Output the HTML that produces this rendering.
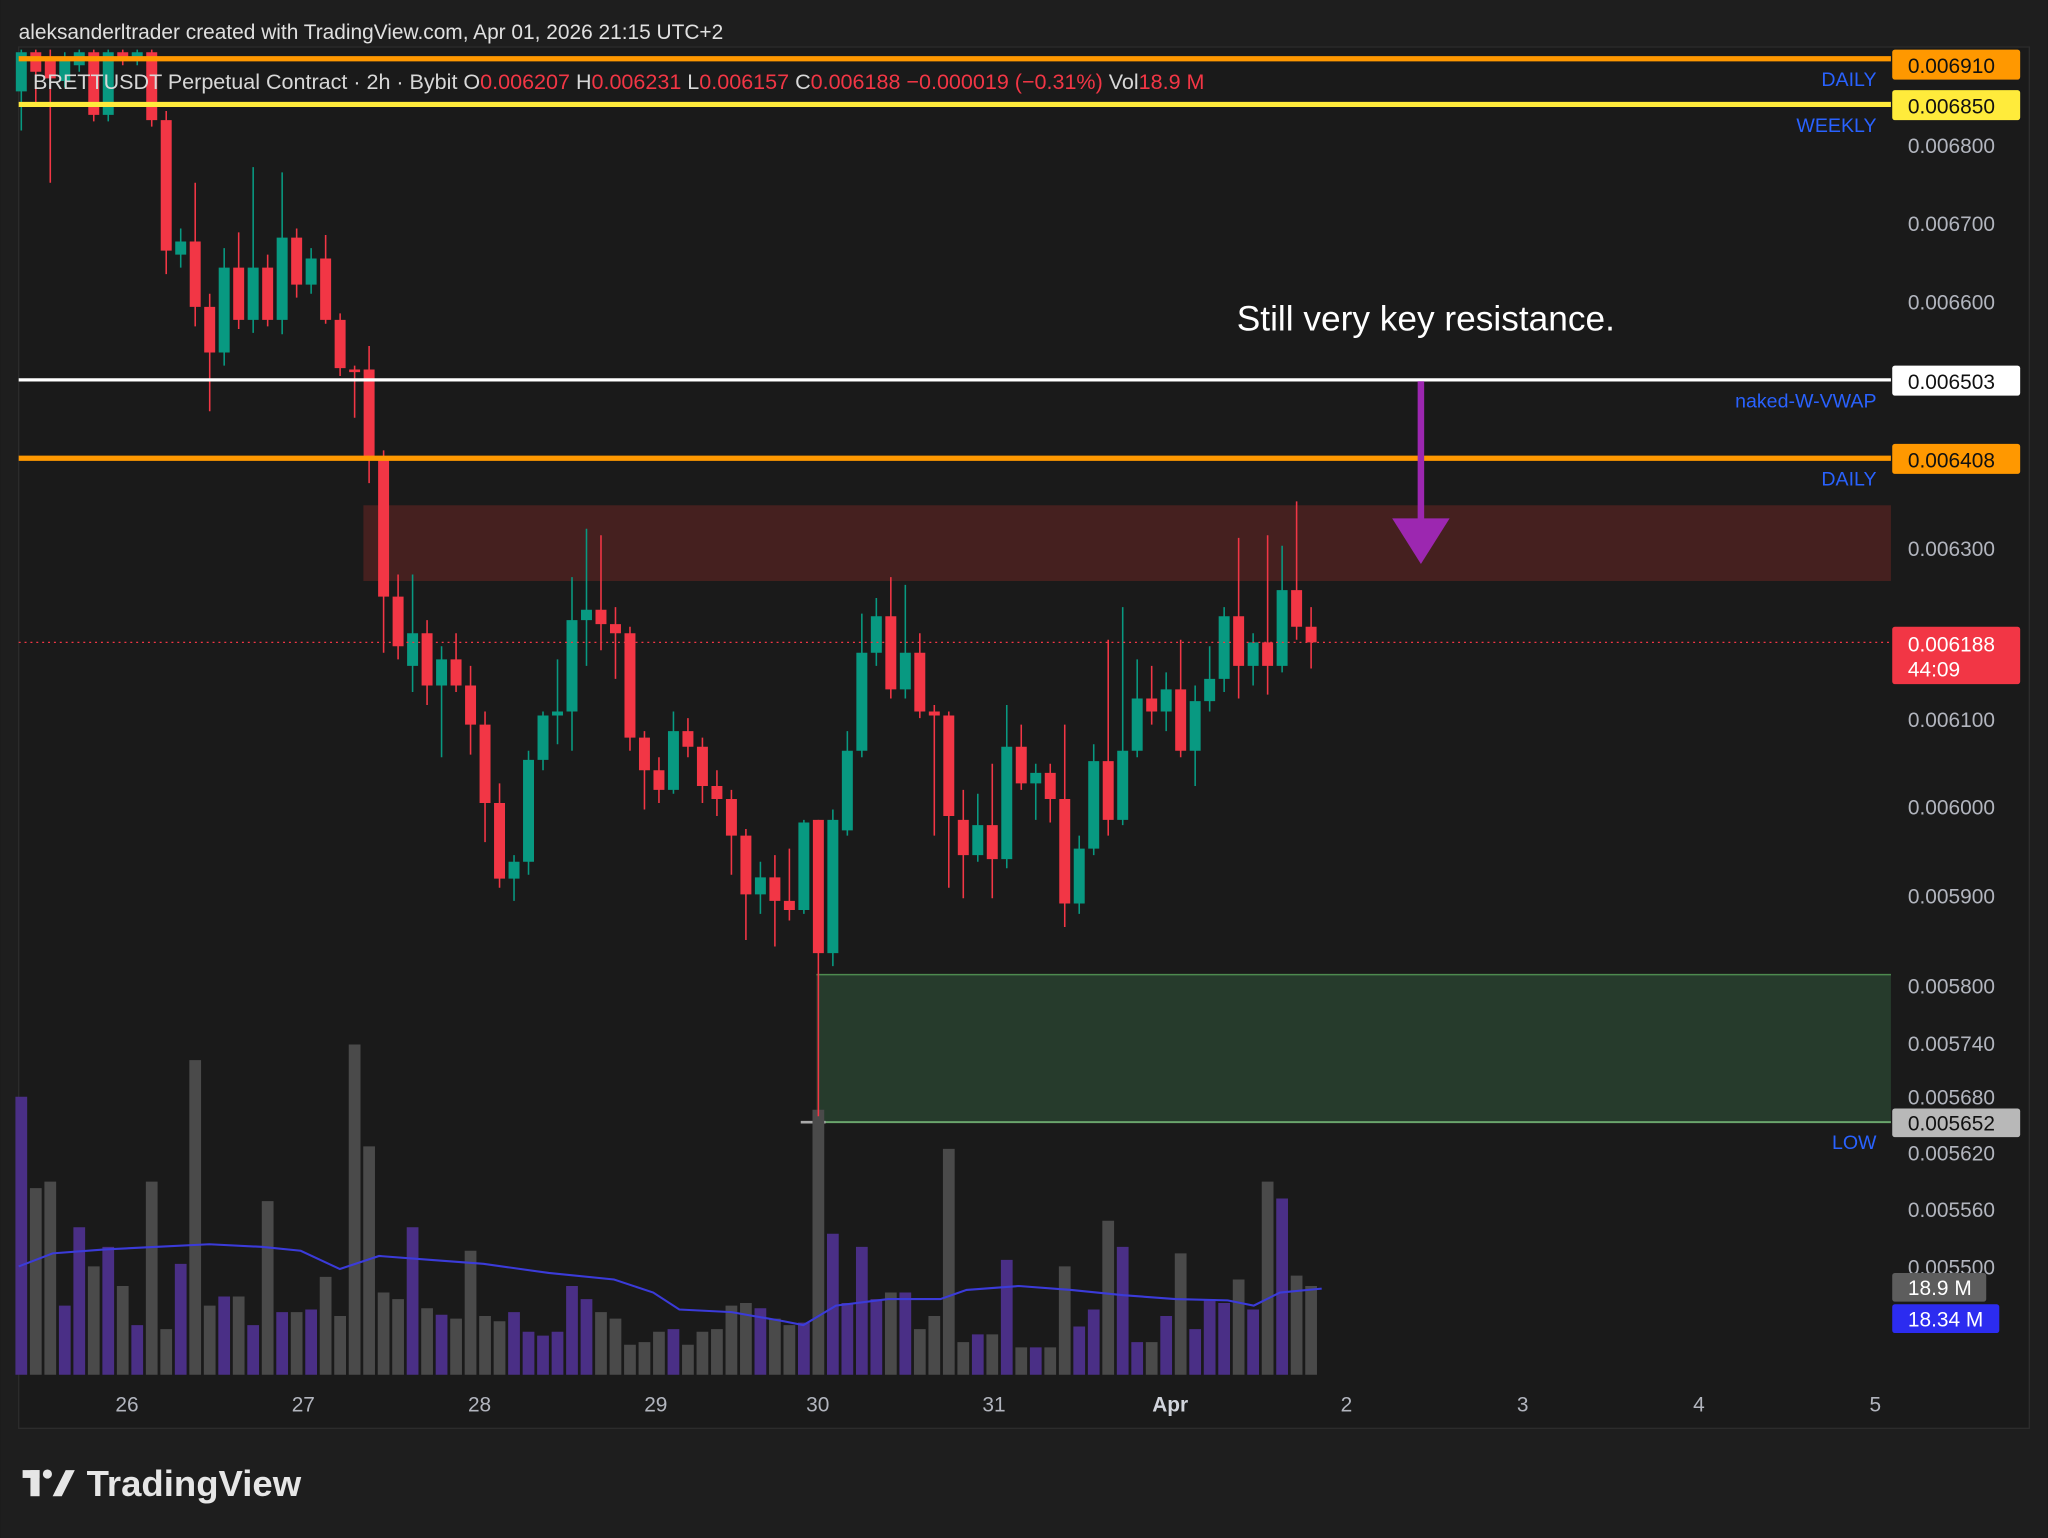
<!DOCTYPE html>
<html><head><meta charset="utf-8"><style>
html,body{margin:0;padding:0;background:#1c1c1c;}
svg{display:block;}
text{font-family:"Liberation Sans",sans-serif;}
</style></head><body>
<svg width="2048" height="1538" viewBox="0 0 1568 1178" xmlns="http://www.w3.org/2000/svg">
<rect x="0" y="0" width="1568" height="1178" fill="#1e1e1e"/>
<rect x="14" y="36" width="1540" height="1058" fill="#1a1a1a" stroke="#2c2c2c" stroke-width="1"/>
<text x="14" y="30" font-size="16" fill="#e0e0e0">aleksanderltrader created with TradingView.com, Apr 01, 2026 21:15 UTC+2</text>
<rect x="278" y="387" width="1170" height="58" fill="#45201f"/>
<rect x="625" y="746" width="823" height="114" fill="#263b2c"/>
<line x1="625" y1="746.5" x2="1448" y2="746.5" stroke="#4d8a4f" stroke-width="1.2"/>
<line x1="625" y1="859.5" x2="1448" y2="859.5" stroke="#6aa56c" stroke-width="1.5"/>
<line x1="613" y1="859.5" x2="632" y2="859.5" stroke="#aaa" stroke-width="2"/>
<!-- volume -->
<path fill="#4a2f86" d="M11.5 840h9V1053h-9Z M44.8 1000h9V1053h-9Z M55.9 940h9V1053h-9Z M78.1 955h9V1053h-9Z M100.3 1015h9V1053h-9Z M133.6 968h9V1053h-9Z M166.9 993h9V1053h-9Z M189.1 1015h9V1053h-9Z M211.3 1005h9V1053h-9Z M233.5 1003h9V1053h-9Z M311.2 940h9V1053h-9Z M333.4 1007h9V1053h-9Z M388.9 1005h9V1053h-9Z M400 1020h9V1053h-9Z M411.1 1023h9V1053h-9Z M422.2 1020h9V1053h-9Z M433.3 985h9V1053h-9Z M444.4 995h9V1053h-9Z M511 1018h9V1053h-9Z M577.6 1002h9V1053h-9Z M610.9 1013h9V1053h-9Z M633.1 945h9V1053h-9Z M644.2 998h9V1053h-9Z M655.3 955h9V1053h-9Z M666.4 995h9V1053h-9Z M688.6 990h9V1053h-9Z M744.1 1022h9V1053h-9Z M766.3 965h9V1053h-9Z M788.5 1032h9V1053h-9Z M821.8 1016h9V1053h-9Z M832.9 1003h9V1053h-9Z M855.1 955h9V1053h-9Z M866.2 1028h9V1053h-9Z M888.4 1008h9V1053h-9Z M910.6 1018h9V1053h-9Z M921.7 995h9V1053h-9Z M932.8 998h9V1053h-9Z M955 1003h9V1053h-9Z M977.2 918h9V1053h-9Z"/>
<path fill="#4a4a4a" d="M22.6 910h9V1053h-9Z M33.7 905h9V1053h-9Z M67 970h9V1053h-9Z M89.2 985h9V1053h-9Z M111.4 905h9V1053h-9Z M122.5 1018h9V1053h-9Z M144.7 812h9V1053h-9Z M155.8 1000h9V1053h-9Z M178 993h9V1053h-9Z M200.2 920h9V1053h-9Z M222.4 1005h9V1053h-9Z M244.6 978h9V1053h-9Z M255.7 1008h9V1053h-9Z M266.8 800h9V1053h-9Z M277.9 878h9V1053h-9Z M289 990h9V1053h-9Z M300.1 995h9V1053h-9Z M322.3 1002h9V1053h-9Z M344.5 1010h9V1053h-9Z M355.6 958h9V1053h-9Z M366.7 1008h9V1053h-9Z M377.8 1012h9V1053h-9Z M455.5 1005h9V1053h-9Z M466.6 1010h9V1053h-9Z M477.7 1030h9V1053h-9Z M488.8 1028h9V1053h-9Z M499.9 1020h9V1053h-9Z M522.1 1030h9V1053h-9Z M533.2 1020h9V1053h-9Z M544.3 1018h9V1053h-9Z M555.4 1000h9V1053h-9Z M566.5 998h9V1053h-9Z M588.7 1010h9V1053h-9Z M599.8 1015h9V1053h-9Z M622 850h9V1053h-9Z M677.5 990h9V1053h-9Z M699.7 1018h9V1053h-9Z M710.8 1008h9V1053h-9Z M721.9 880h9V1053h-9Z M733 1028h9V1053h-9Z M755.2 1022h9V1053h-9Z M777.4 1032h9V1053h-9Z M799.6 1032h9V1053h-9Z M810.7 970h9V1053h-9Z M844 935h9V1053h-9Z M877.3 1028h9V1053h-9Z M899.5 960h9V1053h-9Z M943.9 980h9V1053h-9Z M966.1 905h9V1053h-9Z M988.3 977h9V1053h-9Z M999.4 985h9V1053h-9Z"/>
<polyline fill="none" stroke="#3b3bd9" stroke-width="1.6" points="14,970 40,960 80,957 120,955 160,953 200,955 230,958 260,972 290,962 330,965 370,968 420,975 470,980 500,990 520,1003 560,1005 600,1012 615,1015 640,1000 680,995 720,995 740,988 780,985 820,988 860,992 900,995 940,996 960,1000 980,990 1012,987"/>
<!-- candles -->
<path fill="none" stroke="#089981" stroke-width="1.2" d="M16 38V100 M49.3 40V67 M60.4 38V55 M82.6 38V93 M104.8 38V50 M138.1 175V205 M171.4 190V280 M193.6 128V255 M215.8 132V256 M238 190V225 M315.7 440V530 M337.9 495V580 M393.4 655V690 M404.5 575V670 M415.6 545V590 M426.7 505V570 M437.8 442V575 M448.9 405V510 M515.5 545V608 M582.1 660V700 M615.4 628V700 M637.6 620V740 M648.7 560V640 M659.8 470V580 M670.9 458V510 M693.1 448V535 M748.6 608V660 M770.8 540V665 M793 585V628 M826.3 640V700 M837.4 570V655 M859.6 465V632 M870.7 505V580 M892.9 515V560 M915.1 525V602 M926.2 495V545 M937.3 465V530 M959.5 485V525 M981.7 418V515"/>
<path fill="#089981" d="M11.8 40h8.4V70h-8.4Z M45.1 45h8.4V62h-8.4Z M56.2 40h8.4V50h-8.4Z M78.4 40h8.4V88h-8.4Z M100.6 40h8.4V45h-8.4Z M133.9 185h8.4V195h-8.4Z M167.2 205h8.4V270h-8.4Z M189.4 205h8.4V245h-8.4Z M211.6 182h8.4V245h-8.4Z M233.8 198h8.4V218h-8.4Z M311.5 485h8.4V510h-8.4Z M333.7 505h8.4V525h-8.4Z M389.2 660h8.4V673h-8.4Z M400.3 582h8.4V660h-8.4Z M411.4 548h8.4V582h-8.4Z M422.5 545h8.4V548h-8.4Z M433.6 475h8.4V545h-8.4Z M444.7 467h8.4V475h-8.4Z M511.3 560h8.4V605h-8.4Z M577.9 672h8.4V685h-8.4Z M611.2 630h8.4V697h-8.4Z M633.4 628h8.4V730h-8.4Z M644.5 575h8.4V636h-8.4Z M655.6 500h8.4V575h-8.4Z M666.7 472h8.4V500h-8.4Z M688.9 500h8.4V528h-8.4Z M744.4 632h8.4V655h-8.4Z M766.6 572h8.4V658h-8.4Z M788.8 592h8.4V600h-8.4Z M822.1 650h8.4V692h-8.4Z M833.2 583h8.4V650h-8.4Z M855.4 575h8.4V628h-8.4Z M866.5 535h8.4V575h-8.4Z M888.7 528h8.4V545h-8.4Z M910.9 537h8.4V575h-8.4Z M922 520h8.4V537h-8.4Z M933.1 472h8.4V520h-8.4Z M955.3 492h8.4V510h-8.4Z M977.5 452h8.4V510h-8.4Z"/>
<path fill="none" stroke="#f23645" stroke-width="1.2" d="M27.1 38V80 M38.2 38V140 M71.5 38V93 M93.7 38V50 M115.9 38V97 M127 85V210 M149.2 140V250 M160.3 225V315 M182.5 178V252 M204.7 195V250 M226.9 175V228 M249.1 180V248 M260.2 240V288 M271.3 280V320 M282.4 265V370 M293.5 345V500 M304.6 440V505 M326.8 475V540 M349 485V530 M360.1 510V578 M371.2 545V645 M382.3 600V680 M460 410V498 M471.1 465V520 M482.2 480V575 M493.3 560V620 M504.4 580V615 M526.6 550V580 M537.7 565V615 M548.8 590V625 M559.9 605V670 M571 635V720 M593.2 655V725 M604.3 650V705 M626.5 628V855 M682 442V535 M704.2 485V550 M715.3 540V640 M726.4 545V680 M737.5 605V688 M759.7 585V688 M781.9 555V605 M804.1 585V630 M815.2 555V710 M848.5 490V640 M881.8 510V555 M904 490V580 M948.4 412V535 M970.6 410V532 M992.8 384V490 M1003.9 465V512"/>
<path fill="#f23645" d="M22.9 40h8.4V55h-8.4Z M34 45h8.4V60h-8.4Z M67.3 40h8.4V88h-8.4Z M89.5 40h8.4V45h-8.4Z M111.7 40h8.4V92h-8.4Z M122.8 92h8.4V192h-8.4Z M145 185h8.4V235h-8.4Z M156.1 235h8.4V270h-8.4Z M178.3 205h8.4V245h-8.4Z M200.5 205h8.4V245h-8.4Z M222.7 182h8.4V218h-8.4Z M244.9 198h8.4V245h-8.4Z M256 245h8.4V282h-8.4Z M267.1 283h8.4V285h-8.4Z M278.2 283h8.4V350h-8.4Z M289.3 350h8.4V457h-8.4Z M300.4 457h8.4V495h-8.4Z M322.6 485h8.4V525h-8.4Z M344.8 505h8.4V525h-8.4Z M355.9 525h8.4V555h-8.4Z M367 555h8.4V615h-8.4Z M378.1 615h8.4V673h-8.4Z M455.8 467h8.4V478h-8.4Z M466.9 478h8.4V485h-8.4Z M478 485h8.4V565h-8.4Z M489.1 565h8.4V590h-8.4Z M500.2 590h8.4V605h-8.4Z M522.4 560h8.4V572h-8.4Z M533.5 572h8.4V602h-8.4Z M544.6 602h8.4V612h-8.4Z M555.7 612h8.4V640h-8.4Z M566.8 640h8.4V685h-8.4Z M589 672h8.4V690h-8.4Z M600.1 690h8.4V697h-8.4Z M622.3 628h8.4V730h-8.4Z M677.8 472h8.4V528h-8.4Z M700 500h8.4V545h-8.4Z M711.1 545h8.4V548h-8.4Z M722.2 548h8.4V625h-8.4Z M733.3 628h8.4V655h-8.4Z M755.5 632h8.4V658h-8.4Z M777.7 572h8.4V600h-8.4Z M799.9 592h8.4V612h-8.4Z M811 612h8.4V692h-8.4Z M844.3 583h8.4V628h-8.4Z M877.6 535h8.4V545h-8.4Z M899.8 528h8.4V575h-8.4Z M944.2 472h8.4V510h-8.4Z M966.4 492h8.4V510h-8.4Z M988.6 452h8.4V480h-8.4Z M999.7 480h8.4V492h-8.4Z"/>
<!-- level lines -->
<line x1="14" y1="45" x2="1448" y2="45" stroke="#ff9800" stroke-width="4"/>
<line x1="14" y1="80" x2="1448" y2="80" stroke="#ffeb3b" stroke-width="4"/>
<line x1="14" y1="291" x2="1448" y2="291" stroke="#ffffff" stroke-width="2.5"/>
<line x1="14" y1="351" x2="1448" y2="351" stroke="#ff9800" stroke-width="4"/>
<line x1="14" y1="492" x2="1448" y2="492" stroke="#f23645" stroke-width="1" stroke-dasharray="1.5,3"/>
<text x="25" y="68" font-size="16.5" fill="#d8d8d8">BRETTUSDT Perpetual Contract · 2h · Bybit  O<tspan fill="#f23645">0.006207</tspan>  H<tspan fill="#f23645">0.006231</tspan>  L<tspan fill="#f23645">0.006157</tspan>  C<tspan fill="#f23645">0.006188  −0.000019 (−0.31%)</tspan>  Vol<tspan fill="#f23645">18.9 M</tspan></text>
<line x1="1088" y1="292" x2="1088" y2="398" stroke="#9c27b0" stroke-width="5"/>
<polygon points="1066,397 1110,397 1088,432" fill="#9c27b0"/>
<text x="947" y="253" font-size="27" fill="#ffffff">Still very key resistance.</text>
<g font-size="15" fill="#2962ff" text-anchor="end">
<text x="1437" y="66">DAILY</text>
<text x="1437" y="101">WEEKLY</text>
<text x="1437" y="312">naked-W-VWAP</text>
<text x="1437" y="372">DAILY</text>
<text x="1437" y="880">LOW</text>
</g>
<g font-size="16" fill="#b2b5be">
<text x="1461" y="117">0.006800</text>
<text x="1461" y="177">0.006700</text>
<text x="1461" y="237">0.006600</text>
<text x="1461" y="426">0.006300</text>
<text x="1461" y="557">0.006100</text>
<text x="1461" y="624">0.006000</text>
<text x="1461" y="692">0.005900</text>
<text x="1461" y="761">0.005800</text>
<text x="1461" y="805">0.005740</text>
<text x="1461" y="846">0.005680</text>
<text x="1461" y="889">0.005620</text>
<text x="1461" y="932">0.005560</text>
<text x="1461" y="976">0.005500</text>
<text x="1517" y="1020">0</text>
</g>
<rect x="1449" y="38" width="98" height="23" rx="2" fill="#ff9800"/><text x="1461" y="56" font-size="16" fill="#111">0.006910</text>
<rect x="1449" y="69" width="98" height="23" rx="2" fill="#ffeb3b"/><text x="1461" y="87" font-size="16" fill="#111">0.006850</text>
<rect x="1449" y="280" width="98" height="23" rx="2" fill="#ffffff"/><text x="1461" y="298" font-size="16" fill="#111">0.006503</text>
<rect x="1449" y="340" width="98" height="23" rx="2" fill="#ff9800"/><text x="1461" y="358" font-size="16" fill="#111">0.006408</text>
<rect x="1449" y="480" width="98" height="44" rx="2" fill="#f23645"/><text x="1461" y="499" font-size="16" fill="#fff">0.006188</text><text x="1461" y="518" font-size="16" fill="#fff">44:09</text>
<rect x="1449" y="849" width="98" height="22" rx="2" fill="#b8b8b8"/><text x="1461" y="866" font-size="16" fill="#111">0.005652</text>
<rect x="1449" y="975" width="72" height="22" rx="2" fill="#5d5d5d"/><text x="1461" y="992" font-size="16" fill="#fff">18.9 M</text>
<rect x="1449" y="999" width="82" height="22" rx="2" fill="#2c2cf0"/><text x="1461" y="1016" font-size="16" fill="#fff">18.34 M</text>
<g font-size="16" fill="#b2b5be" text-anchor="middle">
<text x="97" y="1081">26</text><text x="232" y="1081">27</text><text x="367" y="1081">28</text><text x="502" y="1081">29</text>
<text x="626" y="1081">30</text><text x="761" y="1081">31</text><text x="896" y="1081" font-weight="bold" fill="#d1d4dc">Apr</text>
<text x="1031" y="1081">2</text><text x="1166" y="1081">3</text><text x="1301" y="1081">4</text><text x="1436" y="1081">5</text>
</g>
<g fill="#e6e6e6">
<rect x="17" y="1126" width="13" height="6"/><rect x="23" y="1126" width="7" height="20"/>
<circle cx="36" cy="1129" r="3.5"/><polygon points="40,1146 47,1146 57,1126 50,1126"/>
</g>
<text x="66" y="1146" font-size="28" font-weight="bold" fill="#e6e6e6">TradingView</text>
</svg>
</body></html>
